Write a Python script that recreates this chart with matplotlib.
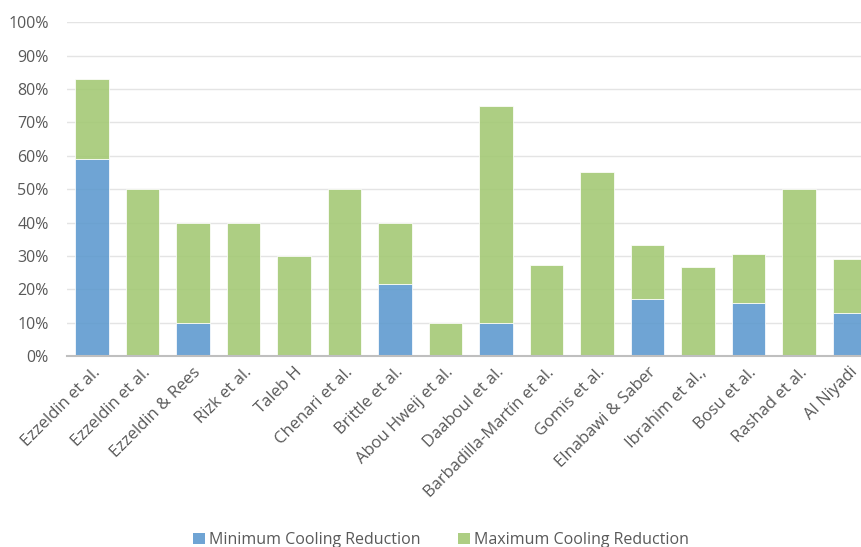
import matplotlib
matplotlib.use("Agg")
import matplotlib.pyplot as plt
from matplotlib.patches import Patch
from matplotlib.ticker import FuncFormatter, MultipleLocator
import numpy as np

plt.rcParams['font.family'] = ['Open Sans', 'DejaVu Sans']

studies = ["Ezzeldin et al.", "Ezzeldin et al.", "Ezzeldin & Rees", "Rizk et al.", "Taleb H",
           "Chenari et al.", "Brittle et al.", "Abou Hweij et al.", "Daaboul et al.",
           "Barbadilla-Martín et al.", "Gomis et al.", "Elnabawi & Saber", "Ibrahim et al.,",
           "Bosu et al.", "Rashad et al.", "Al Niyadi"]
min_red = [0.59, 0.0, 0.10, 0.0, 0.0, 0.0, 0.215, 0.0, 0.10, 0.0, 0.0, 0.17, 0.0, 0.16, 0.0, 0.13]
max_red = [0.83, 0.50, 0.40, 0.40, 0.30, 0.50, 0.398, 0.10, 0.75, 0.273, 0.55, 0.333, 0.268, 0.305, 0.50, 0.29]

blue = "#5b98ce"
green = "#a2c872"
text_col = "#595959"

fig = plt.figure(figsize=(8.62, 5.47), dpi=100)
left = 66.75 / 862
width = (874.75 - 66.75) / 862
bottom = (547 - 356) / 547
height = (356 - 22.3) / 547
ax = fig.add_axes([left, bottom, width, height])

x = np.arange(len(studies))
mn = np.array(min_red)
mx = np.array(max_red)
ax.bar(x, mn, width=0.67, color=blue, alpha=0.88, edgecolor="white", linewidth=0.6, zorder=2)
ax.bar(x, mx - mn, bottom=mn, width=0.67, color=green, alpha=0.88, edgecolor="white", linewidth=0.6, zorder=2)

ax.set_xlim(-0.5, len(studies) - 0.5)
ax.set_ylim(0, 1.0)
ax.yaxis.set_major_locator(MultipleLocator(0.1))
ax.yaxis.set_major_formatter(FuncFormatter(lambda v, p: f"{int(round(v*100))}%"))
ax.grid(axis='y', color="#e4e4e4", linewidth=1.0, zorder=1)
ax.set_axisbelow(True)
for s in ['top', 'right', 'left']:
    ax.spines[s].set_visible(False)
ax.spines['bottom'].set_color("#bfbfbf")
ax.spines['bottom'].set_linewidth(1.5)
ax.spines['bottom'].set_zorder(3)

ax.tick_params(axis='y', length=0, pad=13, labelsize=11.5, labelcolor=text_col)
ax.tick_params(axis='x', length=0, pad=6, labelsize=12, labelcolor=text_col)
ax.set_xticks(x)
ax.set_xticklabels(studies, rotation=45, ha='right', rotation_mode='anchor')

handles = [Patch(facecolor=blue, alpha=0.88, label="Minimum Cooling Reduction"),
           Patch(facecolor=green, alpha=0.88, label="Maximum Cooling Reduction")]
fig.legend(handles=handles, loc='center', bbox_to_anchor=(441 / 862, 1 - 540 / 547),
           ncol=2, frameon=False, fontsize=11.5, handlelength=0.7, handleheight=0.7,
           handletextpad=0.25, columnspacing=2.4, labelcolor=text_col, borderaxespad=0, borderpad=0)

fig.savefig("out.png", dpi=100)
